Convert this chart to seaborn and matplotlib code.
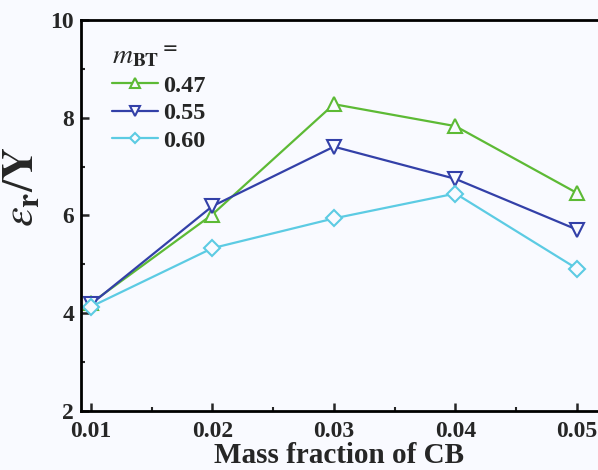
import pandas as pd
import seaborn as sns
import matplotlib.pyplot as plt
from matplotlib.ticker import MultipleLocator

# data
cb = [0.01, 0.02, 0.03, 0.04, 0.05]
m_bt = ["0.47", "0.55", "0.60"]
er_047 = [4.20, 6.02, 8.28, 7.83, 6.46]
er_055 = [4.18, 6.19, 7.41, 6.75, 5.71]
er_060 = [4.13, 5.33, 5.94, 6.45, 4.91]

df = pd.DataFrame({
    "cb": cb * 3,
    "er": er_047 + er_055 + er_060,
    "m": [m_bt[0]] * 5 + [m_bt[1]] * 5 + [m_bt[2]] * 5,
})

sns.set_style("ticks")
plt.rcParams["font.family"] = ["Liberation Serif", "DejaVu Serif"]
plt.rcParams["mathtext.fontset"] = "stix"

colors = {"0.47": "#5dba35", "0.55": "#3340a8", "0.60": "#5ccbe3"}
markers = {"0.47": "^", "0.55": "v", "0.60": "D"}
msize = {"0.47": 10, "0.55": 10, "0.60": 8}

fig = plt.figure(figsize=(5.98, 4.70), dpi=100, facecolor="#f9faff")
ax = fig.add_axes([0.1355, 0.126, 0.864, 0.831])
ax.set_facecolor("#f9faff")

for m in m_bt:
    sns.lineplot(data=df[df["m"] == m], x="cb", y="er", ax=ax,
                 color=colors[m], marker=markers[m], markersize=msize[m],
                 markerfacecolor="#f9faff", markeredgecolor=colors[m],
                 markeredgewidth=1.5, linewidth=1.6, label=m)

ax.set_xlim(0.0092, 0.0517)
ax.set_ylim(2, 10)
ax.set_xticks(cb)
ax.set_xticklabels(["0.01", "0.02", "0.03", "0.04", "0.05"])
ax.set_yticks([2, 4, 6, 8, 10])
ax.xaxis.set_minor_locator(MultipleLocator(0.005))
ax.yaxis.set_minor_locator(MultipleLocator(1))
ax.tick_params(which="major", direction="in", length=6, width=1.8,
               labelsize=17, top=False, right=False)
ax.tick_params(axis="x", which="major", pad=7)
ax.tick_params(axis="y", which="major", pad=5)
ax.tick_params(which="minor", direction="in", length=3, width=1.5,
               top=False, right=False)
for lab in ax.get_xticklabels() + ax.get_yticklabels():
    lab.set_fontweight("bold")

for side in ["left", "bottom", "top"]:
    ax.spines[side].set_linewidth(2.0)
    ax.spines[side].set_color("black")
ax.spines["right"].set_visible(False)

ax.set_xlabel("Mass fraction of CB", fontsize=21, fontweight="bold", labelpad=0)
ax.set_ylabel(r"$\mathit{\varepsilon}_{\mathbf{r}}/\mathbf{Y}$", fontsize=32)
ax.yaxis.set_label_coords(-0.075, 0.575)

leg = ax.legend(title=r"$\mathit{m}_{\mathbf{BT}}{}^{\mathbf{=}}$", loc="upper left",
                bbox_to_anchor=(0.032, 0.975), frameon=False,
                prop={"weight": "bold", "size": 17.5},
                handlelength=1.9, handletextpad=0.2, labelspacing=0.22,
                markerscale=0.65, borderaxespad=0.2)
leg.get_title().set_fontsize(20)
leg.get_title().set_fontweight("bold")
leg._legend_box.align = "left"

fig.savefig("out.png", dpi=100, facecolor=fig.get_facecolor())
